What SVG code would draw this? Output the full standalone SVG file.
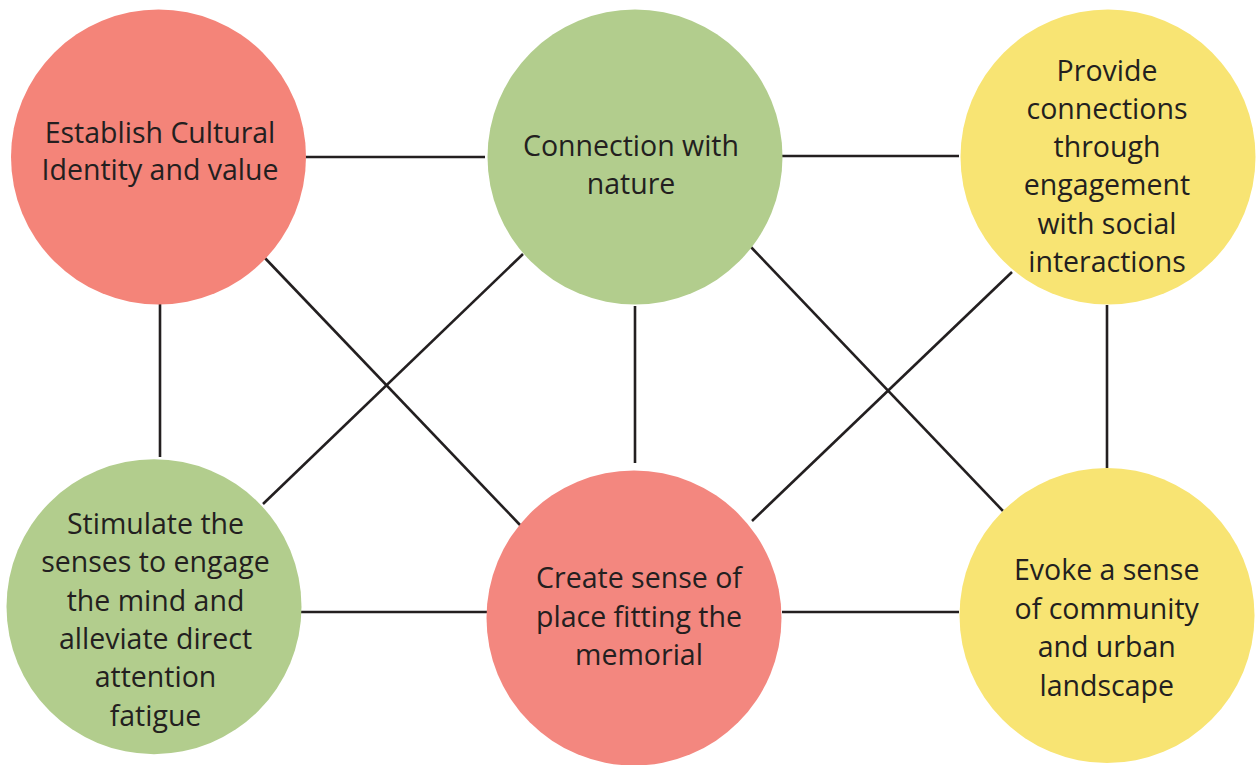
<svg xmlns="http://www.w3.org/2000/svg" width="1258" height="765" viewBox="0 0 1258 765">
  <style>
    .red { fill: #f48479; }
    .green { fill: #b2cd8d; }
    .yellow { fill: #f8e473; }
    .label { font-family: "Open Sans", "Liberation Sans", sans-serif; font-size: 28.5px; fill: #231f20; text-anchor: middle; }
    .link { stroke: #231f20; stroke-width: 2.6; fill: none; }
  </style>
  <rect width="1258" height="765" fill="#ffffff"/>

  <!-- connectors -->
  <g id="connectors" class="link">
    <line x1="304" y1="157" x2="485" y2="157"/>
    <line x1="782" y1="156" x2="959" y2="156"/>
    <line x1="160" y1="301" x2="160" y2="457"/>
    <line x1="635" y1="306" x2="635" y2="463"/>
    <line x1="1107" y1="305" x2="1107" y2="468"/>
    <line x1="263" y1="256" x2="521" y2="526"/>
    <line x1="523" y1="254" x2="263" y2="504"/>
    <line x1="749" y1="245" x2="1003" y2="511"/>
    <line x1="1012" y1="272" x2="752" y2="521"/>
    <line x1="301" y1="612" x2="488" y2="612"/>
    <line x1="782" y1="612" x2="959" y2="612"/>
  </g>

  <g id="cultural-identity">
    <circle class="red" cx="158.5" cy="157" r="147.5"/>
    <text class="label" x="160" y="142.7">Establish Cultural</text>
    <text class="label" x="160" y="180">Identity and value</text>
  </g>

  <g id="nature">
    <circle class="green" cx="635" cy="157" r="147.5"/>
    <text class="label" x="631" y="156">Connection with</text>
    <text class="label" x="631" y="194.3">nature</text>
  </g>

  <g id="social-interactions">
    <circle class="yellow" cx="1108" cy="157" r="147.5"/>
    <text class="label" x="1107" y="80.7">Provide</text>
    <text class="label" x="1107" y="118.9">connections</text>
    <text class="label" x="1107" y="157.1">through</text>
    <text class="label" x="1107" y="195.3">engagement</text>
    <text class="label" x="1107" y="233.5">with social</text>
    <text class="label" x="1107" y="271.7">interactions</text>
  </g>

  <g id="stimulate-senses">
    <circle class="green" cx="154" cy="606.7" r="147.5"/>
    <text class="label" x="155.5" y="534">Stimulate the</text>
    <text class="label" x="155.5" y="572.3">senses to engage</text>
    <text class="label" x="155.5" y="610.6">the mind and</text>
    <text class="label" x="155.5" y="648.9">alleviate direct</text>
    <text class="label" x="155.5" y="687.2">attention</text>
    <text class="label" x="155.5" y="725.5">fatigue</text>
  </g>

  <g id="sense-of-place">
    <circle fill="#f3877f" cx="634" cy="618" r="147.5"/>
    <text class="label" x="639" y="588.3">Create sense of</text>
    <text class="label" x="639" y="626.7">place fitting the</text>
    <text class="label" x="639" y="665">memorial</text>
  </g>

  <g id="community">
    <circle class="yellow" cx="1107" cy="615.5" r="147.5"/>
    <text class="label" x="1106.7" y="580">Evoke a sense</text>
    <text class="label" x="1106.7" y="618.7">of community</text>
    <text class="label" x="1106.7" y="657.4">and urban</text>
    <text class="label" x="1106.7" y="696">landscape</text>
  </g>
</svg>
